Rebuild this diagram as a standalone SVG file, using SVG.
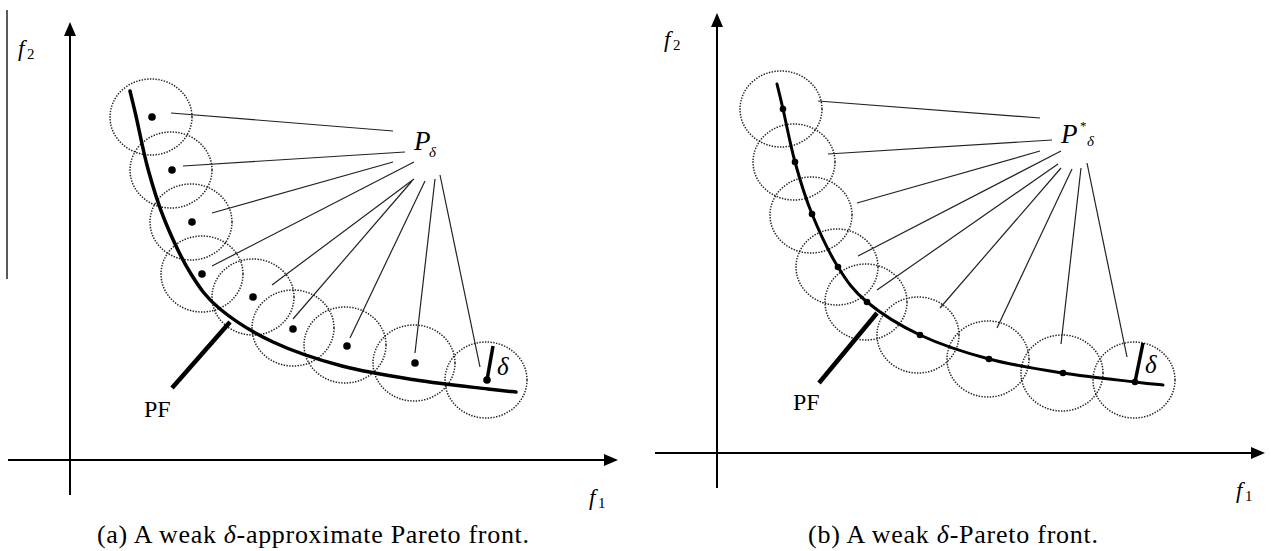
<svg xmlns="http://www.w3.org/2000/svg" width="1271" height="551" viewBox="0 0 1271 551">
<style>
.ax{stroke:#000;stroke-width:2;fill:none}
.ah{fill:#000}
.c{fill:none;stroke:#222;stroke-width:1.5;stroke-dasharray:1.4 1.4}
.ld{stroke:#222;stroke-width:1.2;fill:none}
.pf{fill:none;stroke:#000;stroke-width:3.5;stroke-linecap:round}
.ptr{stroke:#000;stroke-width:4.5}
.dl{stroke:#000;stroke-width:3.5}
.t{font-family:"Liberation Serif","Times New Roman",serif;fill:#000}
.i{font-style:italic}
</style>
<defs>
<path id="curve" d="M777,84 C778,88.2 780,96 783,109 C786,122 790.2,144.5 795,162 C799.8,179.5 804.8,196.5 812,214 C819.2,231.5 828.8,252.3 838,267 C847.2,281.7 853.3,290.7 867,302 C880.7,313.3 899.7,325.5 920,335 C940.3,344.5 965.2,352.7 989,359 C1012.8,365.3 1038.7,369.2 1063,373 C1087.3,376.8 1118.3,380 1135,382 C1151.7,384 1158.3,384.5 1163,385"/>
</defs>
<rect width="1271" height="551" fill="#fff"/>

<!-- Panel (a) -->
<g id="a-axes">
<line class="ax" x1="7" y1="10" x2="7" y2="279" style="stroke-width:1.3"/>
<line class="ax" x1="70" y1="30" x2="70" y2="495"/>
<polygon class="ah" points="70,22 64,36 76,36"/>
<line class="ax" x1="8" y1="460" x2="608" y2="460"/>
<polygon class="ah" points="618,460 604,454 604,466"/>
<text class="t i" x="18" y="56" font-size="23">f</text><text class="t" x="27" y="59" font-size="15">2</text>
<text class="t i" x="589" y="505" font-size="23">f</text><text class="t" x="598" y="508" font-size="15">1</text>
</g>
<g id="a-circles">
<ellipse class="c" cx="151" cy="117" rx="41" ry="38"/>
<ellipse class="c" cx="171" cy="170" rx="41" ry="38"/>
<ellipse class="c" cx="191" cy="222" rx="41" ry="38"/>
<ellipse class="c" cx="202" cy="274" rx="41" ry="38"/>
<ellipse class="c" cx="253" cy="297" rx="41" ry="38"/>
<ellipse class="c" cx="293" cy="328" rx="41" ry="38"/>
<ellipse class="c" cx="345" cy="345" rx="41" ry="38"/>
<ellipse class="c" cx="414" cy="363" rx="41" ry="38"/>
<ellipse class="c" cx="486" cy="380" rx="41" ry="38"/>
</g>
<g id="a-front">
<use href="#curve" class="pf" transform="translate(-647,7)"/>
</g>
<g id="a-points">
<circle cx="152" cy="117" r="3.8"/>
<circle cx="172" cy="170" r="3.8"/>
<circle cx="192" cy="222" r="3.8"/>
<circle cx="202" cy="274" r="3.8"/>
<circle cx="253" cy="297" r="3.8"/>
<circle cx="293" cy="329" r="3.8"/>
<circle cx="347" cy="346" r="3.8"/>
<circle cx="415" cy="363" r="3.8"/>
<circle cx="487" cy="380" r="3.8"/>
</g>
<g id="a-connectors">
<line class="ld" x1="171" y1="113" x2="393" y2="131"/>
<line class="ld" x1="183" y1="166" x2="405" y2="152"/>
<line class="ld" x1="212" y1="213" x2="393" y2="162"/>
<line class="ld" x1="212" y1="266" x2="414" y2="162"/>
<line class="ld" x1="272" y1="285" x2="414" y2="179"/>
<line class="ld" x1="293" y1="319" x2="412" y2="181"/>
<line class="ld" x1="350" y1="338" x2="425" y2="181"/>
<line class="ld" x1="415" y1="353" x2="435" y2="179"/>
<line class="ld" x1="480" y1="367" x2="440" y2="175"/>
<line class="ptr" x1="172" y1="388" x2="230" y2="322"/>
<line class="dl" x1="487" y1="380" x2="493" y2="346"/>
</g>
<g id="a-labels">
<text class="t i" x="414" y="150" font-size="27">P</text><text class="t i" x="429" y="157" font-size="15">δ</text>
<text class="t" x="144" y="417" font-size="24">PF</text>
<text class="t i" x="497" y="375" font-size="25">δ</text>
<text class="t" x="97" y="543" font-size="26" textLength="432" lengthAdjust="spacing">(a) A weak <tspan class="i">δ</tspan>-approximate Pareto front.</text>
</g>

<!-- Panel (b) -->
<g id="b-axes">
<line class="ax" x1="717" y1="22" x2="717" y2="488"/>
<polygon class="ah" points="717,13 711,27 723,27"/>
<line class="ax" x1="655" y1="453" x2="1255" y2="453"/>
<polygon class="ah" points="1265,453 1251,447 1251,459"/>
<text class="t i" x="664" y="47" font-size="23">f</text><text class="t" x="673" y="50" font-size="15">2</text>
<text class="t i" x="1236" y="498" font-size="23">f</text><text class="t" x="1245" y="501" font-size="15">1</text>
</g>
<g id="b-circles">
<ellipse class="c" cx="781" cy="109" rx="41" ry="38"/>
<ellipse class="c" cx="794" cy="162" rx="41" ry="38"/>
<ellipse class="c" cx="811" cy="215" rx="41" ry="38"/>
<ellipse class="c" cx="837" cy="267" rx="41" ry="38"/>
<ellipse class="c" cx="866" cy="302" rx="41" ry="38"/>
<ellipse class="c" cx="918" cy="335" rx="41" ry="38"/>
<ellipse class="c" cx="988" cy="359" rx="41" ry="38"/>
<ellipse class="c" cx="1062" cy="373" rx="41" ry="38"/>
<ellipse class="c" cx="1134" cy="380" rx="41" ry="38"/>
</g>
<g id="b-front">
<use href="#curve" class="pf" style="stroke-width:3"/>
</g>
<g id="b-points">
<circle cx="783" cy="109" r="3.3"/>
<circle cx="795" cy="162" r="3.3"/>
<circle cx="812" cy="214" r="3.3"/>
<circle cx="838" cy="267" r="3.3"/>
<circle cx="867" cy="302" r="3.3"/>
<circle cx="920" cy="335" r="3.3"/>
<circle cx="989" cy="359" r="3.3"/>
<circle cx="1063" cy="373" r="3.3"/>
<circle cx="1135" cy="382" r="3.3"/>
</g>
<g id="b-connectors">
<line class="ld" x1="818" y1="101" x2="1040" y2="118"/>
<line class="ld" x1="828" y1="154" x2="1052" y2="140"/>
<line class="ld" x1="857" y1="203" x2="1040" y2="151"/>
<line class="ld" x1="858" y1="256" x2="1061" y2="151"/>
<line class="ld" x1="877" y1="290" x2="1058" y2="164"/>
<line class="ld" x1="940" y1="308" x2="1061" y2="168"/>
<line class="ld" x1="997" y1="328" x2="1072" y2="169"/>
<line class="ld" x1="1061" y1="344" x2="1081" y2="168"/>
<line class="ld" x1="1127" y1="357" x2="1087" y2="163"/>
<line class="ptr" x1="819" y1="383" x2="877" y2="313"/>
<line class="dl" x1="1135" y1="382" x2="1143" y2="343"/>
</g>
<g id="b-labels">
<text class="t i" x="1061" y="143" font-size="27">P</text><text class="t" x="1080" y="130" font-size="13">*</text><text class="t i" x="1087" y="146" font-size="15">δ</text>
<text class="t" x="793" y="410" font-size="24">PF</text>
<text class="t i" x="1145" y="373" font-size="25">δ</text>
<text class="t" x="808" y="543" font-size="26" textLength="290" lengthAdjust="spacing">(b) A weak <tspan class="i">δ</tspan>-Pareto front.</text>
</g>
</svg>
